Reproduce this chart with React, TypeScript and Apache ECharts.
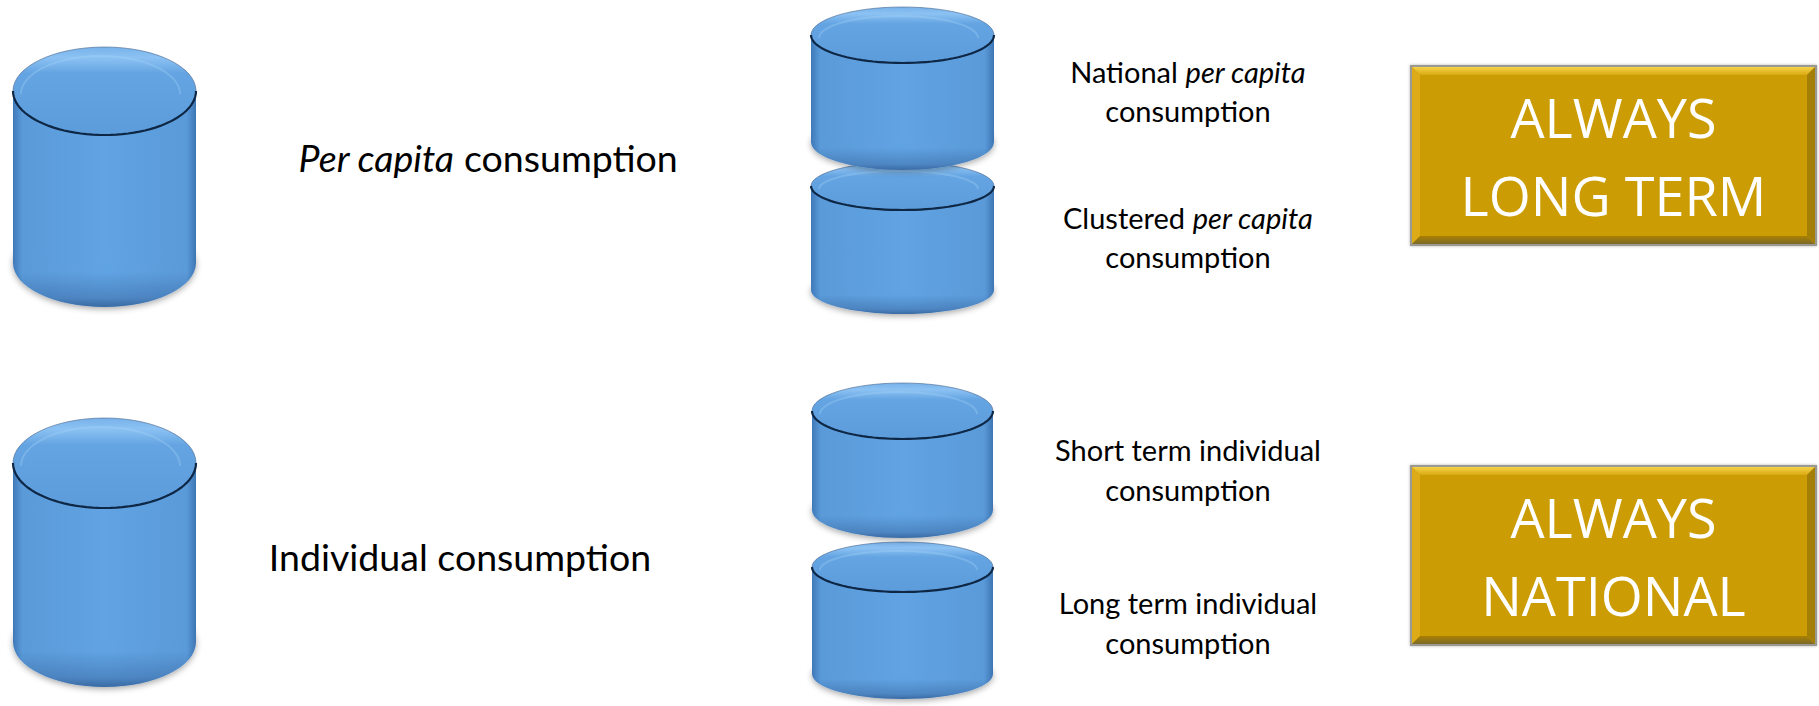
import React, { useEffect, useRef } from 'react';
import * as echarts from 'echarts';

// Diagram content
const leftLabels = ['{i|Per capita} consumption', 'Individual consumption'];
const rightLabels = [
  ['National {i|per capita}', 'consumption'],
  ['Clustered {i|per capita}', 'consumption'],
  ['Short term individual', 'consumption'],
  ['Long term individual', 'consumption'],
];
const boxLabels = [
  ['ALWAYS', 'LONG TERM'],
  ['ALWAYS', 'NATIONAL'],
];

// Layout (pixels)
const cylinders = [
  // single cylinders on the left
  { x: 13, w: 183, top: 91, bottom: 263, ry: 44 },
  { x: 13, w: 183, top: 463, bottom: 642, ry: 45 },
  // upper stack (draw lower piece first)
  { x: 811, w: 183, top: 186, bottom: 290, ry: 24 },
  { x: 811, w: 183, top: 35, bottom: 142, ry: 28 },
  // lower stack
  { x: 812, w: 181, top: 567, bottom: 674, ry: 25 },
  { x: 812, w: 181, top: 411, bottom: 510, ry: 28 },
];
const leftLabelPos = [
  { x: 488, y: 157 },
  { x: 460, y: 556 },
];
const rightLabelPos = [
  { x: 1188, y: [71, 110] },
  { x: 1188, y: [217, 256] },
  { x: 1188, y: [449, 489] },
  { x: 1188, y: [602, 642] },
];
const boxPos = [
  { x: 1410, y: 65, w: 407, h: 181, ty: [117, 195] },
  { x: 1410, y: 465, w: 407, h: 181, ty: [517, 595] },
];

function halfEllipse(cx: number, cy: number, rx: number, ry: number, upper: boolean, n = 48) {
  const pts: number[][] = [];
  for (let i = 0; i <= n; i++) {
    const t = (Math.PI * i) / n;
    pts.push([cx + rx * Math.cos(t), cy + (upper ? -1 : 1) * ry * Math.sin(t)]);
  }
  return pts;
}

function cylinder(c: { x: number; w: number; top: number; bottom: number; ry: number }) {
  const cx = c.x + c.w / 2;
  const rx = c.w / 2;
  const sideGrad = new echarts.graphic.LinearGradient(0, 0, 1, 0, [
    { offset: 0, color: '#3f78b8' },
    { offset: 0.05, color: '#5a9ad9' },
    { offset: 0.5, color: '#61a3e3' },
    { offset: 0.95, color: '#5a9ad9' },
    { offset: 1, color: '#3d75b3' },
  ]);
  const shadeGrad = new echarts.graphic.LinearGradient(0, 0, 0, 1, [
    { offset: 0, color: 'rgba(20,50,100,0)' },
    { offset: 0.6, color: 'rgba(20,50,100,0)' },
    { offset: 0.9, color: 'rgba(20,50,100,0.25)' },
    { offset: 1, color: 'rgba(20,50,100,0.5)' },
  ]);
  const topGrad = new echarts.graphic.LinearGradient(0, 0, 0, 1, [
    { offset: 0, color: '#78b2ea' },
    { offset: 0.12, color: '#8cc2f3' },
    { offset: 0.3, color: '#64a4e2' },
    { offset: 1, color: '#5c9cdb' },
  ]);
  return [
    {
      type: 'ellipse',
      shape: { cx, cy: c.bottom, rx, ry: c.ry },
      style: {
        fill: sideGrad,
        shadowBlur: 6,
        shadowOffsetY: 2,
        shadowColor: 'rgba(0,0,0,0.35)',
      },
    },
    {
      type: 'rect',
      shape: { x: c.x, y: c.top, width: c.w, height: c.bottom - c.top },
      style: { fill: sideGrad },
    },
    {
      type: 'ellipse',
      shape: { cx, cy: c.bottom, rx, ry: c.ry },
      style: { fill: shadeGrad },
    },
    {
      type: 'ellipse',
      shape: { cx, cy: c.top, rx, ry: c.ry },
      style: { fill: topGrad, stroke: 'rgba(70,100,140,0.6)', lineWidth: 1 },
    },
    {
      type: 'polyline',
      shape: { points: halfEllipse(cx - 4, c.top + 3, rx - 12, c.ry - 6, true) },
      style: { stroke: 'rgba(170,215,250,0.3)', lineWidth: 2, fill: 'none' },
    },
    {
      type: 'polyline',
      shape: { points: halfEllipse(cx, c.top, rx, c.ry, false) },
      style: { stroke: '#0e2745', lineWidth: 2.2, fill: 'none' },
    },
  ];
}

function goldBox(b: { x: number; y: number; w: number; h: number; ty: number[] }, lines: string[]) {
  const bev = 8;
  const x0 = b.x + 2, y0 = b.y + 2, x1 = b.x + b.w - 2, y1 = b.y + b.h - 2;
  const els: any[] = [
    {
      type: 'rect',
      shape: { x: b.x, y: b.y, width: b.w, height: b.h },
      style: { fill: '#9b9a92', shadowBlur: 3, shadowColor: 'rgba(0,0,0,0.3)' },
    },
    {
      type: 'rect',
      shape: { x: x0, y: y0, width: x1 - x0, height: y1 - y0 },
      style: { fill: '#cc9c04' },
    },
    {
      type: 'polygon',
      shape: { points: [[x0, y0], [x1, y0], [x1 - bev, y0 + bev], [x0 + bev, y0 + bev]] },
      style: {
        fill: new echarts.graphic.LinearGradient(0, 0, 0, 1, [
          { offset: 0, color: '#f5d24a' },
          { offset: 1, color: '#d9a912' },
        ]),
      },
    },
    {
      type: 'polygon',
      shape: { points: [[x0, y0], [x0 + bev, y0 + bev], [x0 + bev, y1 - bev], [x0, y1]] },
      style: { fill: '#dcab17' },
    },
    {
      type: 'polygon',
      shape: { points: [[x0, y1], [x0 + bev, y1 - bev], [x1 - bev, y1 - bev], [x1, y1]] },
      style: {
        fill: new echarts.graphic.LinearGradient(0, 0, 0, 1, [
          { offset: 0, color: '#a98000' },
          { offset: 1, color: '#7c6a2a' },
        ]),
      },
    },
    {
      type: 'polygon',
      shape: { points: [[x1, y0], [x1, y1], [x1 - bev, y1 - bev], [x1 - bev, y0 + bev]] },
      style: { fill: '#a47f08' },
    },
  ];
  lines.forEach((t, i) => {
    els.push({
      type: 'text',
      x: b.x + b.w / 2,
      y: b.ty[i],
      style: {
        text: t,
        fill: '#ffffff',
        fontFamily: 'Open Sans',
        fontSize: 54,
        align: 'center',
        verticalAlign: 'middle',
      },
    });
  });
  return els;
}

export default function App() {
  const ref = useRef<HTMLDivElement>(null);
  useEffect(() => {
    document.body.style.margin = '0';
    const chart = echarts.init(ref.current!, null, { renderer: 'svg' });
    const font = 'Lato';
    const elements: any[] = [];
    cylinders.forEach((c) => elements.push(...cylinder(c)));
    leftLabels.forEach((t, i) => {
      elements.push({
        type: 'text',
        x: leftLabelPos[i].x,
        y: leftLabelPos[i].y,
        style: {
          text: t,
          fill: '#000000',
          fontFamily: font,
          fontSize: 37.5,
          align: 'center',
          verticalAlign: 'middle',
          rich: { i: { fontStyle: 'italic', fontFamily: font, fontSize: 37.5, fill: '#000000' } },
        },
      });
    });
    rightLabels.forEach((lines, i) => {
      lines.forEach((t, j) => {
        elements.push({
          type: 'text',
          x: rightLabelPos[i].x,
          y: rightLabelPos[i].y[j],
          style: {
            text: t,
            fill: '#000000',
            fontFamily: font,
            fontSize: 29,
            align: 'center',
            verticalAlign: 'middle',
            rich: { i: { fontStyle: 'italic', fontFamily: font, fontSize: 29, fill: '#000000' } },
          },
        });
      });
    });
    boxPos.forEach((b, i) => elements.push(...goldBox(b, boxLabels[i])));
    chart.setOption({
      animation: false,
      backgroundColor: '#ffffff',
      graphic: { elements },
    });
    return () => chart.dispose();
  }, []);
  return <div ref={ref} style={{ width: 1819, height: 706 }} />;
}
